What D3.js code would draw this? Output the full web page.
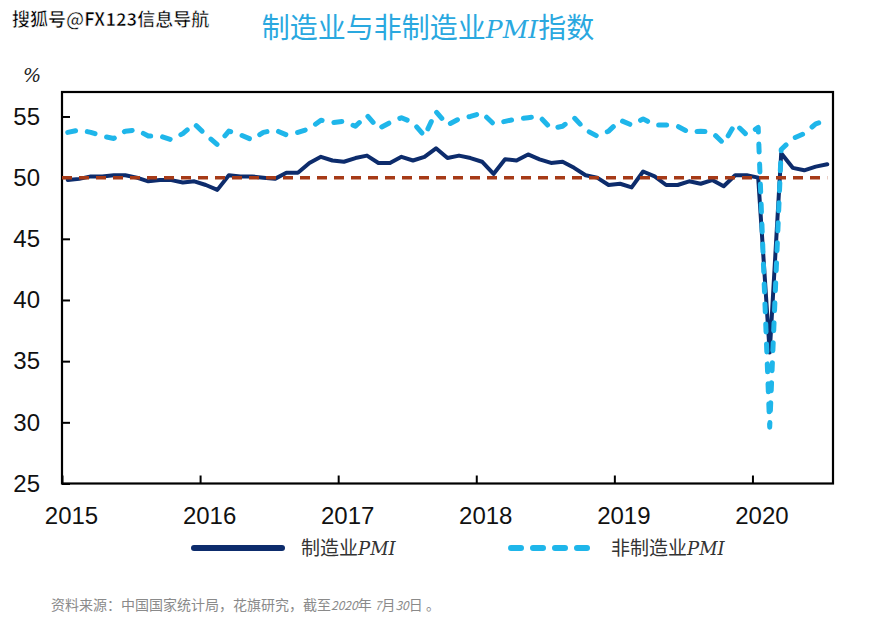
<!DOCTYPE html>
<html><head><meta charset="utf-8">
<script src="https://cdn.jsdelivr.net/npm/d3@7"></script>
<style>
html,body{margin:0;padding:0;background:#fff;}
svg{display:block;}
</style></head>
<body>
<svg id="chart" width="890" height="625"></svg>
<script>
// ---- data ----
const years = ["2015","2016","2017","2018","2019","2020"];
const monthsPerYear = ["01","02","03","04","05","06","07","08","09","10","11","12"];
// categories: Jan 2015 .. Jul 2020
const categories = [];
years.forEach(y => monthsPerYear.forEach(m => { if (!(y === "2020" && +m > 7)) categories.push(y + "-" + m); }));

const manufacturing = [
  49.8,49.9,50.1,50.1,50.2,50.2,50.0,49.7,49.8,49.8,49.6,49.7,
  49.4,49.0,50.2,50.1,50.1,50.0,49.9,50.4,50.4,51.2,51.7,51.4,
  51.3,51.6,51.8,51.2,51.2,51.7,51.4,51.7,52.4,51.6,51.8,51.6,
  51.3,50.3,51.5,51.4,51.9,51.5,51.2,51.3,50.8,50.2,50.0,49.4,
  49.5,49.2,50.5,50.1,49.4,49.4,49.7,49.5,49.8,49.3,50.2,50.2,
  50.0,35.7,52.0,50.8,50.6,50.9,51.1
];
const nonManufacturing = [
  53.7,53.9,53.7,53.4,53.2,53.8,53.9,53.4,53.4,53.1,53.6,54.4,
  53.5,52.7,53.8,53.5,53.1,53.7,53.9,53.5,53.7,54.0,54.7,54.5,
  54.6,54.2,55.1,54.0,54.5,54.9,54.5,53.4,55.4,54.3,54.8,55.0,
  55.3,54.4,54.6,54.8,54.9,55.0,54.0,54.2,54.9,53.9,53.4,53.8,
  54.7,54.3,54.8,54.3,54.3,54.2,53.7,53.8,53.7,52.8,54.4,53.5,
  54.1,29.6,52.3,53.2,53.6,54.4,54.7
];
const threshold = 50;
const yTicks = [25,30,35,40,45,50,55];
const seriesNames = ["制造业", "非制造业"];

// ---- layout ----
const svg = d3.select("#chart");
const L = 62, R = 833, T = 92, B = 483.5;
const C_MFG = "#0d2c6c", C_NON = "#1fb6ea", C_TH = "#a63a17";

const x = d3.scaleLinear().domain([0, categories.length]).range([L, R]);
const y = d3.scaleLinear().domain([25, 57]).range([B, T]);
const px = i => x(i + 0.5);

// watermark
svg.append("text").attr("x", 12).attr("y", 26)
  .attr("font-family", "'Noto Sans CJK SC', sans-serif").attr("font-size", 18).attr("font-weight", 700)
  .attr("fill", "#000").attr("stroke", "#fff").attr("stroke-width", 0.6)
  .text("搜狐号@FX123信息导航");

// title
const title = svg.append("text").attr("x", 428).attr("y", 38).attr("text-anchor", "middle")
  .attr("font-family", "'Noto Sans CJK SC', sans-serif").attr("font-size", 28).attr("fill", "#2aa8df");
title.append("tspan").text("制造业与非制造业");
title.append("tspan").attr("font-family", "'DejaVu Serif', serif").attr("font-style", "italic").attr("font-size", 25).text("PMI");
title.append("tspan").text("指数");

// unit label
svg.append("text").attr("x", 32).attr("y", 82).attr("text-anchor", "middle")
  .attr("font-family", "'DejaVu Serif', serif").attr("font-style", "italic").attr("font-size", 19).attr("fill", "#222")
  .text("%");

// axes
const yAxis = d3.axisLeft(y).tickValues(yTicks).tickSize(-8).tickPadding(22).tickFormat(d3.format("d"));
const gy = svg.append("g").attr("transform", `translate(${L},0)`).call(yAxis);
gy.select(".domain").remove();
gy.selectAll(".tick line").attr("stroke", "#000").attr("stroke-width", 2);
gy.selectAll(".tick text").attr("font-family", "'Liberation Sans Narrow','Liberation Sans',Arial,sans-serif")
  .attr("font-size", 24).attr("fill", "#111");

const yearIdx = years.map((yr) => categories.indexOf(yr + "-01"));
const xAxis = d3.axisBottom(x).tickValues(yearIdx).tickSize(-8).tickPadding(23)
  .tickFormat((d) => categories[d].slice(0, 4));
const gx = svg.append("g").attr("transform", `translate(0,${B})`).call(xAxis);
gx.select(".domain").remove();
gx.selectAll(".tick line").attr("stroke", "#000").attr("stroke-width", 2);
gx.selectAll(".tick text").attr("dx", 9).attr("font-family", "'Liberation Sans Narrow','Liberation Sans',Arial,sans-serif")
  .attr("font-size", 24).attr("fill", "#111");

// frame
svg.append("rect").attr("x", L).attr("y", T).attr("width", R - L).attr("height", B - T)
  .attr("fill", "none").attr("stroke", "#000").attr("stroke-width", 2.2);

// lines
const line = d3.line().x((d, i) => px(i)).y(d => y(d));
svg.append("path").datum(manufacturing).attr("d", line)
  .attr("fill", "none").attr("stroke", C_MFG).attr("stroke-width", 4).attr("stroke-linejoin", "round").attr("stroke-linecap", "round");

svg.append("line").attr("x1", L).attr("x2", px(categories.length - 1))
  .attr("y1", y(threshold)).attr("y2", y(threshold))
  .attr("stroke", C_TH).attr("stroke-width", 3.5).attr("stroke-dasharray", "10,7");

svg.append("path").datum(nonManufacturing).attr("d", line)
  .attr("fill", "none").attr("stroke", C_NON).attr("stroke-width", 5).attr("stroke-dasharray", "8,12")
  .attr("stroke-linejoin", "round").attr("stroke-linecap", "round");

// legend
const lg = svg.append("g");
lg.append("line").attr("x1", 194).attr("x2", 282).attr("y1", 548).attr("y2", 548)
  .attr("stroke", C_MFG).attr("stroke-width", 6).attr("stroke-linecap", "round");
const t1 = lg.append("text").attr("x", 301).attr("y", 555).attr("font-family", "'Noto Sans CJK SC', sans-serif")
  .attr("font-size", 19).attr("fill", "#333");
t1.append("tspan").text(seriesNames[0]);
t1.append("tspan").attr("font-family", "'DejaVu Serif', serif").attr("font-style", "italic").attr("font-size", 18).text("PMI");

lg.append("line").attr("x1", 511).attr("x2", 599).attr("y1", 548).attr("y2", 548)
  .attr("stroke", C_NON).attr("stroke-width", 6).attr("stroke-linecap", "round").attr("stroke-dasharray", "10,12");
const t2 = lg.append("text").attr("x", 611).attr("y", 555).attr("font-family", "'Noto Sans CJK SC', sans-serif")
  .attr("font-size", 19).attr("fill", "#333");
t2.append("tspan").text(seriesNames[1]);
t2.append("tspan").attr("font-family", "'DejaVu Serif', serif").attr("font-style", "italic").attr("font-size", 18).text("PMI");

// source note
const src = svg.append("text").attr("x", 51).attr("y", 610).attr("font-family", "'Noto Sans CJK SC', sans-serif")
  .attr("font-size", 14).attr("fill", "#8a8a8a");
src.append("tspan").text("资料来源：中国国家统计局，花旗研究，截至");
src.append("tspan").attr("font-style", "italic").attr("font-size", 12).text("2020");
src.append("tspan").text("年 ");
src.append("tspan").attr("font-style", "italic").attr("font-size", 12).text("7");
src.append("tspan").text("月");
src.append("tspan").attr("font-style", "italic").attr("font-size", 12).text("30");
src.append("tspan").text("日 。");
</script>
</body></html>
